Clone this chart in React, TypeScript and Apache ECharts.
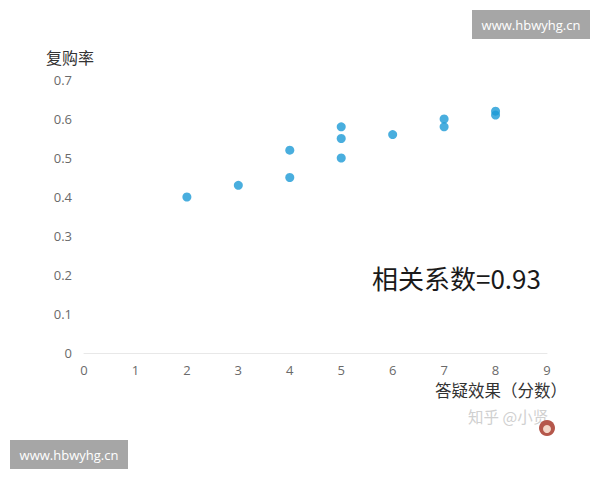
import React, { useEffect, useRef } from "react";
import * as echarts from "echarts";

const xValues = [2, 3, 4, 4, 5, 5, 5, 6, 7, 7, 8, 8];
const yValues = [0.40, 0.43, 0.52, 0.45, 0.58, 0.55, 0.50, 0.56, 0.60, 0.58, 0.62, 0.61];
const yAxisTitle = "复购率";
const xAxisTitle = "答疑效果（分数）";
const annotation = "相关系数=0.93";
const watermark = "www.hbwyhg.cn";
const credit = "知乎 @小贤";

const CJK = '"Noto Sans CJK SC", "Noto Sans", sans-serif';
const LATIN = '"Open Sans", "Noto Sans", sans-serif';

export default function App() {
  const ref = useRef<HTMLDivElement>(null);
  useEffect(() => {
    if (!ref.current) return;
    const chart = echarts.init(ref.current, undefined, { renderer: "svg" });
    const data = xValues.map((x, i) => [x, yValues[i]]);
    chart.setOption({
      animation: false,
      backgroundColor: "#ffffff",
      grid: { left: 84, right: 53, top: 80, bottom: 127 },
      xAxis: {
        type: "value",
        min: 0,
        max: 9,
        interval: 1,
        axisLine: { show: true, lineStyle: { color: "#e8e8e8", width: 1 } },
        axisTick: { show: false },
        splitLine: { show: false },
        axisLabel: { color: "#6a6a6a", fontSize: 13, fontFamily: LATIN, margin: 10 },
      },
      yAxis: {
        type: "value",
        min: 0,
        max: 0.7,
        interval: 0.1,
        axisLine: { show: false },
        axisTick: { show: false },
        splitLine: { show: false },
        axisLabel: {
          color: "#6a6a6a",
          fontSize: 13,
          fontFamily: LATIN,
          margin: 12,
          formatter: (v: number) => (v === 0 ? "0" : v.toFixed(1)),
        },
      },
      series: [
        {
          type: "scatter",
          data,
          symbol: "circle",
          symbolSize: 9,
          itemStyle: { color: "#1b9ad6" },
        },
      ],
      graphic: [
        {
          type: "text",
          left: 46,
          top: 49,
          style: { text: yAxisTitle, font: `16px ${CJK}`, fill: "#333333" },
        },
        {
          type: "text",
          left: 435,
          top: 382,
          style: { text: xAxisTitle, font: `16.5px ${CJK}`, fill: "#333333" },
        },
        {
          type: "text",
          left: 372,
          top: 264,
          style: { text: annotation, font: `26px ${CJK}`, fill: "#1a1a1a" },
        },
        {
          type: "text",
          left: 468,
          top: 408,
          style: { text: credit, font: `15.5px ${CJK}`, fill: "#d0d0d0" },
        },
        {
          type: "circle",
          shape: { cx: 547, cy: 428, r: 8 },
          style: { fill: "#b5574b" },
        },
        {
          type: "circle",
          shape: { cx: 547, cy: 429, r: 4 },
          style: { fill: "#f3d6c8" },
        },
        {
          type: "group",
          left: 472,
          top: 10,
          children: [
            { type: "rect", shape: { x: 0, y: 0, width: 118, height: 29 }, style: { fill: "#a6a6a6" } },
            {
              type: "text",
              x: 59,
              y: 14.5,
              style: {
                text: watermark,
                font: `13px ${LATIN}`,
                fill: "#ffffff",
                textAlign: "center",
                textVerticalAlign: "middle",
              },
            },
          ],
        },
        {
          type: "group",
          left: 10,
          top: 440,
          children: [
            { type: "rect", shape: { x: 0, y: 0, width: 118, height: 29 }, style: { fill: "#a6a6a6" } },
            {
              type: "text",
              x: 59,
              y: 14.5,
              style: {
                text: watermark,
                font: `13px ${LATIN}`,
                fill: "#ffffff",
                textAlign: "center",
                textVerticalAlign: "middle",
              },
            },
          ],
        },
      ],
    });
    return () => chart.dispose();
  }, []);
  return (
    <div
      ref={ref}
      style={{ position: "fixed", left: 0, top: 0, width: 600, height: 480, background: "#fff" }}
    />
  );
}
